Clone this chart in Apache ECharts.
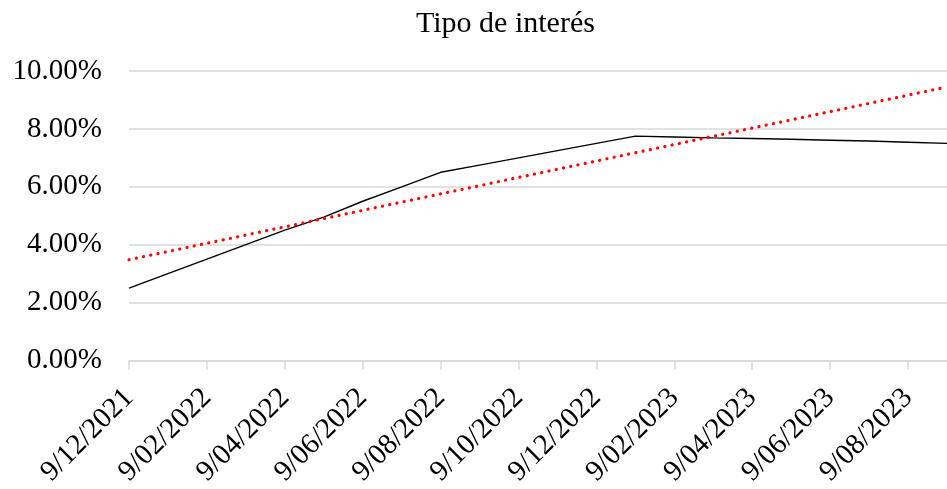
<!DOCTYPE html>
<html><head><meta charset="utf-8">
<script src="https://cdn.jsdelivr.net/npm/echarts@6/dist/echarts.min.js"></script>
<style>html,body{margin:0;padding:0;background:#fff}#c{width:947px;height:489px}</style>
</head><body><div id="c"></div>
<script>
var title = 'Tipo de interés';
var categories = ['9/12/2021','9/01/2022','9/02/2022','9/03/2022','9/04/2022','9/05/2022','9/06/2022','9/07/2022','9/08/2022','9/09/2022','9/10/2022','9/11/2022','9/12/2022','9/01/2023','9/02/2023','9/03/2023','9/04/2023','9/05/2023','9/06/2023','9/07/2023','9/08/2023','9/09/2023'];
var rateValues = [2.5, 3.0, 3.5, 4.0, 4.5, 4.95, 5.5, 6.0, 6.5, 6.75, 7.0, 7.25, 7.5, 7.75, 7.72, 7.69, 7.67, 7.64, 7.61, 7.58, 7.54, 7.5];
var trendStart = 3.48;
var trendEnd = 9.45;
var yTicks = [0, 2, 4, 6, 8, 10];

var font = 'Liberation Serif';
var chart = echarts.init(document.getElementById('c'), null, {renderer: 'canvas'});
chart.setOption({
  animation: false,
  backgroundColor: '#fff',
  title: {text: title, left: 411, top: 4, textStyle: {fontFamily: font, fontSize: 30, fontWeight: 'normal', color: '#000'}},
  grid: {left: 129, right: 0, top: 71, bottom: 127, containLabel: false},
  xAxis: {
    type: 'category', data: categories, boundaryGap: false,
    axisLine: {lineStyle: {color: '#d9d9d9', width: 1.5}},
    axisTick: {show: true, interval: 1, length: 9, lineStyle: {color: '#d9d9d9', width: 1.5}},
    axisLabel: {interval: 1, rotate: 45, margin: 33, fontFamily: font, fontSize: 29, color: '#000'},
    splitLine: {show: false}
  },
  yAxis: {
    type: 'value', min: yTicks[0], max: yTicks[yTicks.length-1], interval: 2,
    axisLine: {show: false}, axisTick: {show: false},
    axisLabel: {margin: 27, fontFamily: font, fontSize: 29, color: '#000', formatter: function(v){return v.toFixed(2)+'%';}},
    splitLine: {lineStyle: {color: '#d9d9d9', width: 1.5}}
  },
  series: [
    {type: 'line', data: rateValues, symbol: 'none', lineStyle: {color: '#000', width: 1.4}, z: 2},
    {type: 'line', data: [[0, trendStart], [categories.length-1, trendEnd]], symbol: 'none',
     lineStyle: {color: '#ff0000', width: 3.2, type: [0.1, 7.3], cap: 'round'}, z: 3}
  ]
});
</script></body></html>
